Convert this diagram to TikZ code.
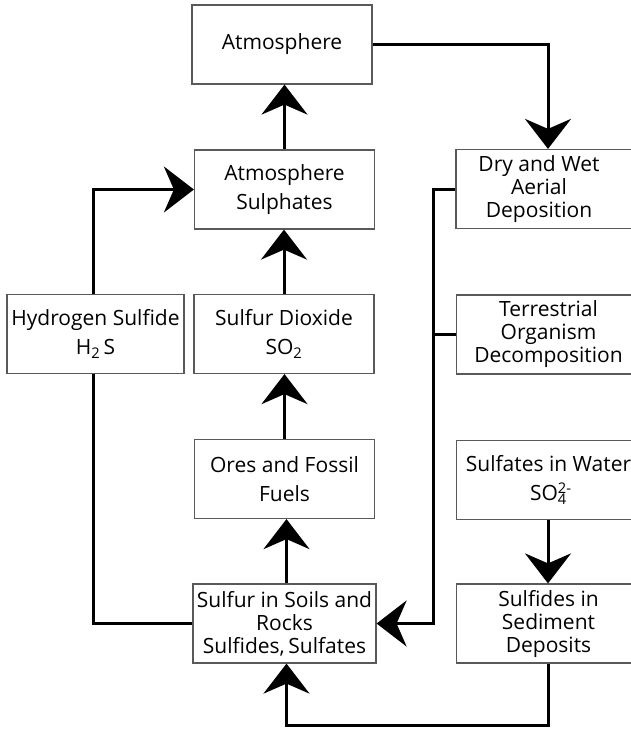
\documentclass[tikz,border=0pt]{standalone}
\usepackage{fontspec}
\setmainfont{Open Sans}
\usetikzlibrary{arrows.meta}
\begin{document}
\begin{tikzpicture}[x=1pt,y=-1pt,
  box/.style={draw=black!65, line width=1.2pt, minimum width=180pt,
    minimum height=79pt, inner sep=0pt, align=center,
    font=\fontsize{21}{29}\selectfont},
  tight/.style={font=\fontsize{21}{23}\selectfont},
  rbox/.style={box, minimum width=184pt},
  flow/.style={line width=3pt},
  arr/.style={flow, -{Stealth[length=30pt,width=46pt,inset=10pt]}}]
\useasboundingbox (0,0) rectangle (631,731);
\clip (0,0) rectangle (631,731);

% boxes
\node[box] (atm)   at (282,44.5)  {Atmosphere};
\node[box] (sulph) at (284.5,189.5) {Atmosphere\\Sulphates};
\node[box, minimum width=177pt] (h2s) at (95.5,334) {Hydrogen Sulfide\\H\textsubscript{2}\,S};
\node[box] (so2)   at (284,334)   {Sulfur Dioxide\\SO\textsubscript{2}};
\node[box] (ores)  at (284.5,479) {Ores and Fossil\\Fuels};
\node[box, tight, minimum width=183pt] (soils) at (284.5,623.5) {Sulfur in Soils and\\Rocks\\Sulfides,\,Sulfates};

\node[rbox, tight] (dry)   at (548,189) {\hspace*{-18pt}Dry and Wet\\\hspace*{-18pt}Aerial\\\hspace*{-18pt}Deposition};
\node[rbox, tight] (terr)  at (548.5,334.5) {Terrestrial\\Organism\\Decomposition};
\node[rbox] (water) at (548.5,480) {Sulfates in Water\\SO\rlap{\textsuperscript{2-}}\textsubscript{4}};
\node[rbox, tight] (sed)   at (548.5,623.5) {Sulfides in\\Sediment\\Deposits};

% helper points of the connectors
\coordinate (bus) at (433,0);
\coordinate (low) at (548,725);

% connectors
\draw[arr] (sulph.north) -- (sulph.north |- atm.south);
\draw[arr] (atm.east) -| (dry.north -| low);
\draw[arr] (so2.north) -- (so2.north |- sulph.south);
\draw[arr] (ores.north) -- (ores.north |- so2.south);
\draw[arr] ([xshift=2pt]soils.north) -- ([xshift=2pt]soils.north |- ores.south);
\draw[arr] ([xshift=-2pt]h2s.north) |- (sulph.west);
\draw[flow] ([xshift=-2pt]h2s.south) |- (soils.west);
\draw[arr] (dry.west) -- (dry.west -| bus) -- (bus |- soils.east) -- (soils.east);
\draw[flow] (terr.west) -- (terr.west -| bus);
\draw[arr] (water.south -| low) -- (sed.north -| low);
\draw[arr] (sed.south -| low) -- (low) -| ([xshift=2pt]soils.south);
\end{tikzpicture}
\end{document}
